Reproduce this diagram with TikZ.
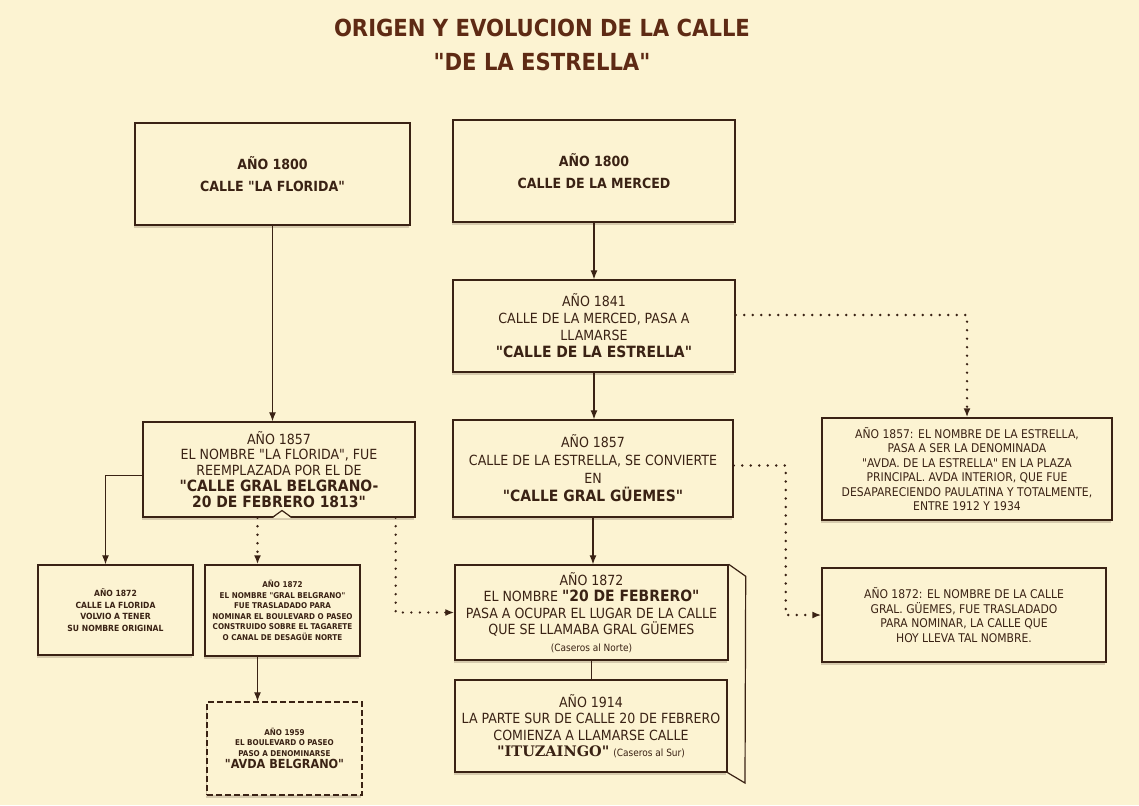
\documentclass[tikz,border=0pt]{standalone}
\usepackage{fontspec}
\setmainfont{DejaVu Sans Condensed}[BoldFont={DejaVu Sans Condensed Bold},Ligatures=TeXOff]
\newfontfamily\titulofont{DejaVu Sans Condensed}[BoldFont={DejaVu Sans Condensed Bold}]
\newfontfamily\seriffont{DejaVu Serif}
\usetikzlibrary{arrows.meta,shadows}
\definecolor{papel}{HTML}{FCF3D2}
\definecolor{tinta}{HTML}{3A2214}
\definecolor{titulo}{HTML}{5E2A14}
\newcommand{\grande}{\bfseries\fontsize{15.5}{18}\selectfont}
\newcommand{\chico}{\fontsize{10}{12}\selectfont}
\tikzset{
  caja/.style={draw=tinta, line width=1.4pt, fill=papel, text=tinta, align=center, inner sep=0pt,
    drop shadow={shadow xshift=-1.5pt, shadow yshift=-3pt, opacity=.35, fill=tinta!55!papel}},
  flecha/.style={-{Latex[length=9pt,width=7pt]}, line width=1.2pt, draw=tinta},
  linea/.style={line width=1.2pt, draw=tinta},
  punteado/.style={line width=2.6pt, line cap=round, dash pattern=on 0pt off 8.5pt}
}
\begin{document}
\begin{tikzpicture}[x=1pt,y=-1pt]
    \useasboundingbox (0,0) rectangle (1139,805);
    \fill[papel] (0,0) rectangle (1139,805);
    %\draw[very thin,gray] (0,0) grid[step=50] (1139,805);
    \node[text=titulo, align=center, font=\titulofont\bfseries\fontsize{23.5}{34}\selectfont] (titulo) at (542,45)
        {ORIGEN Y EVOLUCION DE LA CALLE\\"DE LA ESTRELLA"};
    % columna izquierda
    \node[caja, minimum width=275, minimum height=102, font=\bfseries\fontsize{14}{22}\selectfont] (florida) at (272.5,174)
        {AÑO 1800\\CALLE "LA FLORIDA"};
    \node[caja, minimum width=272, minimum height=95, font=\fontsize{14}{15.5}\selectfont] (belgrano) at (279,469.5)
        {AÑO 1857\\EL NOMBRE "LA FLORIDA", FUE\\REEMPLAZADA POR EL DE\\[1pt]\grande "CALLE GRAL BELGRANO-\\\grande 20 DE FEBRERO 1813"};
    \node[caja, minimum width=155, minimum height=90, font=\bfseries\fontsize{8.5}{11.5}\selectfont] (volvio) at (115.5,610)
        {AÑO 1872\\CALLE LA FLORIDA\\VOLVIO A TENER\\SU NOMBRE ORIGINAL};
    \node[caja, minimum width=155, minimum height=91, font=\bfseries\fontsize{8}{10.5}\selectfont] (gralbel) at (282.5,610.5)
        {AÑO 1872\\EL NOMBRE "GRAL BELGRANO"\\FUE TRASLADADO PARA\\NOMINAR EL BOULEVARD O PASEO\\CONSTRUIDO SOBRE EL TAGARETE\\O CANAL DE DESAGÜE NORTE};
    \node[caja, dash pattern=on 6pt off 3pt, minimum width=155, minimum height=93, font=\bfseries\fontsize{8}{10.5}\selectfont] (avda) at (284.5,748.5)
        {AÑO 1959\\EL BOULEVARD O PASEO\\PASO A DENOMINARSE\\[2pt]\fontsize{12.5}{14}\selectfont "AVDA BELGRANO"};
    % columna central
    \node[caja, minimum width=282, minimum height=102, font=\bfseries\fontsize{14}{22}\selectfont] (merced) at (594,171)
        {AÑO 1800\\CALLE DE LA MERCED};
    \node[caja, minimum width=282, minimum height=92, font=\fontsize{14}{17}\selectfont] (estrella) at (594,326)
        {AÑO 1841\\CALLE DE LA MERCED, PASA A\\LLAMARSE\\\grande "CALLE DE LA ESTRELLA"};
    \node[caja, minimum width=280, minimum height=97, font=\fontsize{14}{18}\selectfont] (guemes) at (593,468.5)
        {AÑO 1857\\CALLE DE LA ESTRELLA, SE CONVIERTE\\EN\\\grande "CALLE GRAL GÜEMES"};
    \node[caja, minimum width=273, minimum height=95, font=\fontsize{14}{16.5}\selectfont] (febrero) at (591.5,612.5)
        {AÑO 1872\\EL NOMBRE {\grande "20 DE FEBRERO"}\\PASA A OCUPAR EL LUGAR DE LA CALLE\\QUE SE LLAMABA GRAL GÜEMES\\\chico (Caseros al Norte)};
    \node[caja, minimum width=272, minimum height=92, font=\fontsize{14}{16.5}\selectfont] (ituzaingo) at (591,726)
        {AÑO 1914\\LA PARTE SUR DE CALLE 20 DE FEBRERO\\COMIENZA A LLAMARSE CALLE\\{\seriffont\bfseries\fontsize{14.5}{16}\selectfont "ITUZAINGO"} {\chico (Caseros al Sur)}};
    % columna derecha
    \node[caja, minimum width=290, minimum height=102, font=\fontsize{12}{14.5}\selectfont] (denominada) at (967,469)
        {AÑO 1857: EL NOMBRE DE LA ESTRELLA,\\PASA A SER LA DENOMINADA\\"AVDA. DE LA ESTRELLA" EN LA PLAZA\\PRINCIPAL. AVDA INTERIOR, QUE FUE\\DESAPARECIENDO PAULATINA Y TOTALMENTE,\\ENTRE 1912 Y 1934};
    \node[caja, minimum width=284, minimum height=94, font=\fontsize{12}{14.5}\selectfont] (trasladado) at (964,615)
        {AÑO 1872: EL NOMBRE DE LA CALLE\\GRAL. GÜEMES, FUE TRASLADADO\\PARA NOMINAR, LA CALLE QUE\\HOY LLEVA TAL NOMBRE.};
    % detalles
    \fill[papel] (273,518) -- (282,510.5) -- (291,518) -- cycle;
    \draw[linea] (273,517) -- (282,510.5) -- (291,517);
    \draw[linea] (febrero.north east) -- ++(17,12) -- (745,783) -- (ituzaingo.south east);
    % flechas
    \draw[flecha] (florida.south) -- (florida.south |- belgrano.north);
    \draw[flecha] (merced.south) -- (estrella.north);
    \draw[flecha] (estrella.south) -- (estrella.south |- guemes.north);
    \draw[flecha] (guemes.south) -- (guemes.south |- febrero.north);
    \draw[linea] (febrero.south) -- (febrero.south |- ituzaingo.north);
    \draw[flecha] ([yshift=-6pt]belgrano.west) -| ([xshift=-10pt]volvio.north);
    \draw[flecha] ([xshift=-25pt]gralbel.south) -- ([xshift=-25pt]gralbel.south |- avda.north);
    \draw[flecha,punteado] ([xshift=-25pt]gralbel.north |- belgrano.south) -- ([xshift=-25pt]gralbel.north);
    \draw[flecha,punteado] ([xshift=-20pt]belgrano.south east) |- (febrero.west);
    \draw[flecha,punteado] ([yshift=11pt]estrella.east) -| (denominada.north);
    \draw[flecha,punteado] ([yshift=3pt]guemes.east) -- ++(52,0) |- (trasladado.west);
\end{tikzpicture}
\end{document}
